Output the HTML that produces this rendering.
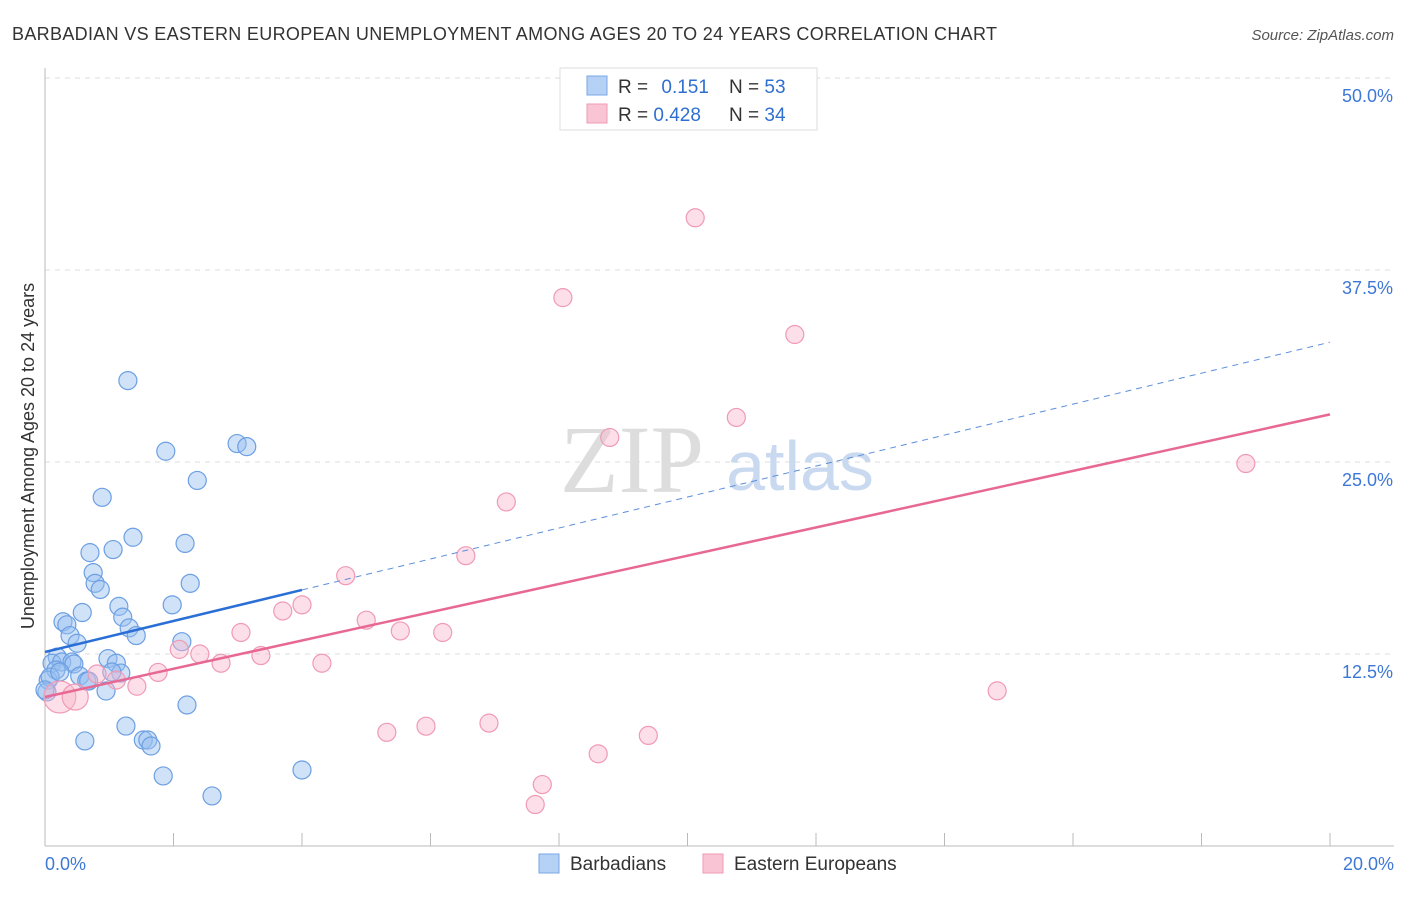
<!DOCTYPE html>
<html><head><meta charset="utf-8"><style>
body{margin:0;background:#fff;font-family:"Liberation Sans",sans-serif}
</style></head><body>
<svg id="c" width="1406" height="892" xmlns="http://www.w3.org/2000/svg" font-family="Liberation Sans, sans-serif">
<text x="12" y="40" font-size="18" fill="#333" textLength="985">BARBADIAN VS EASTERN EUROPEAN UNEMPLOYMENT AMONG AGES 20 TO 24 YEARS CORRELATION CHART</text>
<text x="1394" y="40" font-size="15" fill="#555" font-style="italic" text-anchor="end">Source: ZipAtlas.com</text>
<g id="grid"></g>
<text x="632" y="492" font-size="96" fill="#ddd" font-family="Liberation Serif, serif" text-anchor="middle">ZIP</text>
<text x="800" y="490" font-size="70" fill="#c9d9f0" text-anchor="middle">atlas</text>
<g id="marks"></g>
<text transform="translate(34,456) rotate(-90)" font-size="18" fill="#333" text-anchor="middle">Unemployment Among Ages 20 to 24 years</text>
<g>
<rect x="560" y="68" width="257" height="62" fill="#fff" stroke="#ddd"/>
<rect x="587" y="76" width="20" height="19" fill="#b5d1f5" stroke="#7aa8e8"/>
<rect x="587" y="104" width="20" height="19" fill="#f9c5d4" stroke="#ee9ab3"/>
<text x="618" y="93" font-size="19" fill="#333">R = <tspan fill="#2f6fd0" dx="8">0.151</tspan></text>
<text x="729" y="93" font-size="19" fill="#333">N = <tspan fill="#2f6fd0">53</tspan></text>
<text x="618" y="121" font-size="19" fill="#333">R = <tspan fill="#2f6fd0">0.428</tspan></text>
<text x="729" y="121" font-size="19" fill="#333">N = <tspan fill="#2f6fd0">34</tspan></text>
</g>
<g>
<rect x="539" y="854" width="20" height="19" fill="#b5d1f5" stroke="#7aa8e8"/>
<text x="570" y="870" font-size="19" fill="#333">Barbadians</text>
<rect x="703" y="854" width="20" height="19" fill="#f9c5d4" stroke="#ee9ab3"/>
<text x="734" y="870" font-size="19" fill="#333">Eastern Europeans</text>
</g>
</svg>
<script>
const yTicks=[12.5,25,37.5,50];
const yTickLabels=["12.5%","25.0%","37.5%","50.0%"];
const xTickLabels=["0.0%","20.0%"];
const blueX=[1.29,1.88,2.99,3.14,2.37,0.89,1.37,1.06,0.70,2.18,0.75,0.78,0.86,2.26,1.15,1.98,0.58,1.21,0.28,0.34,1.31,1.42,0.39,0.50,2.13,0.19,0.11,0.26,0.42,0.45,0.98,1.11,0.17,1.18,0.54,0.65,0.68,0.05,0.08,0.95,0.03,2.21,1.26,0.62,1.53,1.60,1.65,1.84,4.00,2.60,0.00,0.23,1.04];
const blueY=[30.3,25.7,26.2,26.0,23.8,22.7,20.1,19.3,19.1,19.7,17.8,17.1,16.7,17.1,15.6,15.7,15.2,14.9,14.6,14.4,14.2,13.7,13.7,13.2,13.3,12.3,11.9,11.98,11.98,11.85,12.2,11.9,11.46,11.26,11.07,10.74,10.74,10.8,11.0,10.09,10.03,9.18,7.81,6.84,6.90,6.90,6.51,4.56,4.95,3.26,10.16,11.33,11.33];
const pinkX=[10.12,8.06,11.67,10.76,8.79,18.69,7.18,6.55,4.68,4.00,3.70,5.00,5.53,6.19,3.05,2.09,2.41,3.36,4.31,1.76,2.74,0.81,1.11,1.43,0.23,0.47,14.82,5.32,5.93,6.91,9.39,8.61,7.74,7.63];
const pinkY=[40.9,35.7,33.3,27.9,26.6,24.9,22.4,18.9,17.6,15.7,15.3,14.7,14.0,13.9,13.9,12.8,12.5,12.4,11.9,11.3,11.9,11.2,10.8,10.4,9.7,9.7,10.1,7.4,7.8,8.0,7.2,6.0,4.0,2.7];
const pinkR=[9,9,9,9,9,9,9,9,9,9,9,9,9,9,9,9,9,9,9,9,9,9,9,9,16,13,9,9,9,9,9,9,9,9];
const blueLine=[[0,12.63],[4,16.67],[20,32.8]];
const pinkLine=[[0,9.7],[20,28.1]];
const NS="http://www.w3.org/2000/svg";
const X=v=>45+v*64.25, Y=v=>846-v*15.36;
function mk(t,a,p){const e=document.createElementNS(NS,t);for(const k in a)e.setAttribute(k,a[k]);(p||document.getElementById('marks')).appendChild(e);return e;}
const g=document.getElementById('grid');
yTicks.forEach((t,i)=>{
 const l=mk('line',{x1:45,x2:1394,y1:Y(t),y2:Y(t),stroke:'#ddd','stroke-dasharray':'5,5'},g);
 
 
 const tx=mk('text',{x:1393,y:Y(t)+24,'font-size':18,fill:'#3d78d6','text-anchor':'end'},g);tx.textContent=yTickLabels[i];
 
 
});
const ax=mk('line',{x1:45,x2:45,y1:68,y2:846,stroke:'#bbb'},g);


const bx=mk('line',{x1:45,x2:1394,y1:846,y2:846,stroke:'#bbb'},g);


for(let i=0;i<=10;i++){const t=mk('line',{x1:X(i*2),x2:X(i*2),y1:833,y2:846,stroke:'#bbb'},g);
 
 }
[[0,'start',45],[1,'end',1394]].forEach(([i,a,x])=>{const t=mk('text',{x:x,y:870,'font-size':18,fill:'#3d78d6','text-anchor':a},g);t.textContent=xTickLabels[i];
 
 });
blueX.forEach((v,i)=>{const c=mk('circle',{cx:X(v),cy:Y(blueY[i]),r:9,fill:'rgba(150,190,240,0.45)',stroke:'#6c9fe3','stroke-width':1.2});
 
 });
pinkX.forEach((v,i)=>{const c=mk('circle',{cx:X(v),cy:Y(pinkY[i]),r:pinkR[i],fill:'rgba(248,185,205,0.45)',stroke:'#f09ab5','stroke-width':1.2});
 
 });
let l1=mk('line',{x1:X(blueLine[0][0]),y1:Y(blueLine[0][1]),x2:X(blueLine[1][0]),y2:Y(blueLine[1][1]),stroke:'#2a6fd6','stroke-width':2.5});


let l2=mk('line',{x1:X(blueLine[1][0]),y1:Y(blueLine[1][1]),x2:X(blueLine[2][0]),y2:Y(blueLine[2][1]),stroke:'#5b8fdb','stroke-width':1,'stroke-dasharray':'6,5'});


let l3=mk('line',{x1:X(pinkLine[0][0]),y1:Y(pinkLine[0][1]),x2:X(pinkLine[1][0]),y2:Y(pinkLine[1][1]),stroke:'#e86894','stroke-width':2.5});


</script>
</body></html>
